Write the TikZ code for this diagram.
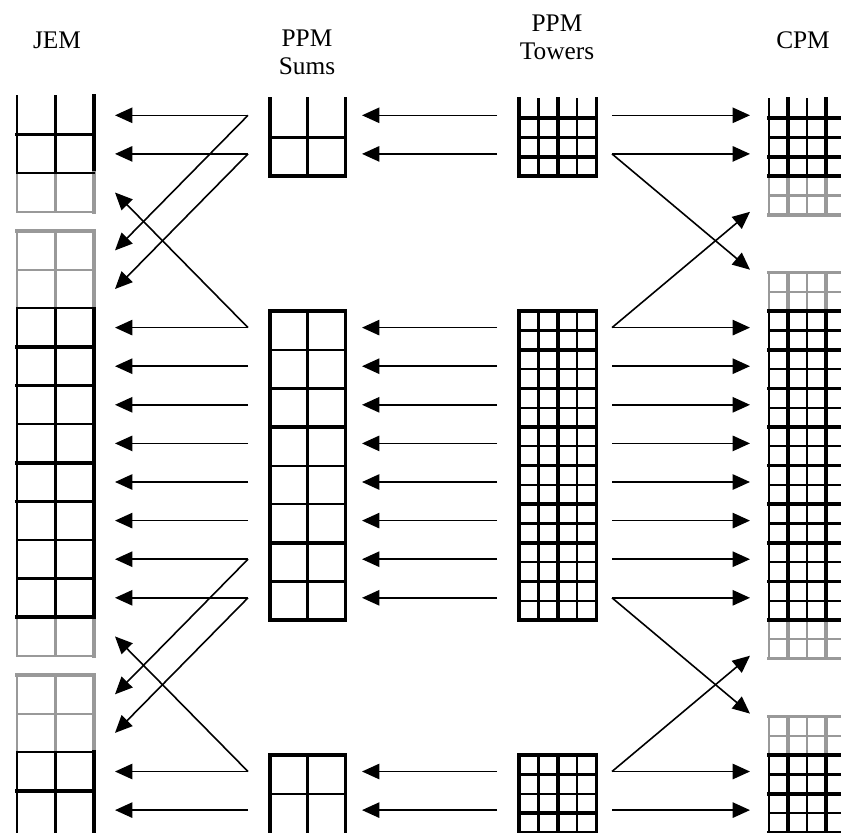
\documentclass[tikz,border=0pt]{standalone}
\usepackage{fontspec}
\setmainfont{Liberation Serif}
\usetikzlibrary{arrows.meta}

\begin{document}
\begin{tikzpicture}[
  x=0.75pt,y=-0.75pt,
  font=\fontsize{19}{21}\selectfont,
  colhead/.style={align=center,inner sep=0pt},
  cell/.style={line width=1.6pt,line cap=rect},
  cellbold/.style={line width=2.7pt,line cap=rect},
  faded/.style={black!40},
  arr/.style={line width=1.2pt,-{Triangle[length=13pt,width=11.5pt]}}
]
\useasboundingbox (0,0) rectangle (841,832);
\clip (0,0) rectangle (841,832);

\node[colhead] (jem) at (57,40) {JEM};
\node[colhead] (sums) at (307,52) {PPM\\Sums};
\node[colhead] (towers) at (557,37) {PPM\\Towers};
\node[colhead] (cpm) at (803,40) {CPM};

\begin{scope}[shift={(0,96)},y=-14.475pt]
% JEM
\foreach \a/\b/\c in {0/4/black,4/6/faded,7/11/faded,11/27/black,27/29/faded,30/34/faded,34/39/black} {
  \draw[cell,\c] (17,\a) -- (17,\b) (55.5,\a) -- (55.5,\b);
  \draw[cellbold,\c] (94,\a) -- (94,\b);
}
\foreach \n in {6,9,29,32} \draw[cell,faded] (17,\n) -- (94,\n);
\foreach \n in {7,30} \draw[cellbold,faded] (17,\n) -- (94,\n);
\foreach \n in {4,11,17,23,25,34} \draw[cell] (17,\n) -- (94,\n);
\foreach \n in {2,13,15,19,21,27,36} \draw[cellbold] (17,\n) -- (94,\n);

\begin{scope}[yshift=-2.2pt]
% PPM sums
\foreach \a/\b in {0/4,11/27,34/39}
  \draw[cellbold] (270,\a) -- (270,\b) (307.5,\a) -- (307.5,\b) (345.5,\a) -- (345.5,\b);
\foreach \n in {2,13,19,21,36} \draw[cell] (270,\n) -- (345.5,\n);
\foreach \n in {4,11,15,17,23,25,27,34} \draw[cellbold] (270,\n) -- (345.5,\n);

% PPM towers
\foreach \a/\b in {0/4,11/27,34/39} {
  \draw[cellbold] (519,\a) -- (519,\b) (558,\a) -- (558,\b) (596.5,\a) -- (596.5,\b);
  \draw[cell] (538.5,\a) -- (538.5,\b) (577,\a) -- (577,\b);
}
\foreach \n in {2,12,14,16,18,20,22,24,26,36,38} \draw[cell] (519,\n) -- (596.5,\n);
\foreach \n in {1,3,4,11,13,15,17,19,21,23,25,27,34,35,37} \draw[cellbold] (519,\n) -- (596.5,\n);

% CPM
\foreach \a/\b/\c in {0/4/black,4/6/faded,9/11/faded,11/27/black,27/29/faded,32/34/faded,34/39/black} {
  \draw[cell,\c] (769,\a) -- (769,\b) (807,\a) -- (807,\b) (845,\a) -- (845,\b);
  \draw[cellbold,\c] (788,\a) -- (788,\b) (826,\a) -- (826,\b);
}
\foreach \n in {5,10,28,33} \draw[cell,faded] (769,\n) -- (850,\n);
\foreach \n in {6,9,29,32} \draw[cellbold,faded] (769,\n) -- (850,\n);
\foreach \n in {2,12,14,16,18,20,22,24,26,35,37} \draw[cell] (769,\n) -- (850,\n);
\foreach \n in {1,3,4,11,13,15,17,19,21,23,25,27,34,36,38} \draw[cellbold] (769,\n) -- (850,\n);
\end{scope}

% row end points
\foreach \n in {0,...,38} {
  \coordinate (jem-e\n) at (115,\n);
  \coordinate (sum-w\n) at (248,\n);
  \coordinate (sum-e\n) at (362,\n);
  \coordinate (tow-w\n) at (497,\n);
  \coordinate (tow-e\n) at (612,\n);
  \coordinate (cpm-w\n) at (750,\n);
}

% links
\foreach \n in {1,3,12,14,16,18,20,22,24,26,35,37} {
  \draw[arr] (sum-w\n) -- (jem-e\n);
  \draw[arr] (tow-w\n) -- (sum-e\n);
  \draw[arr] (tow-e\n) -- (cpm-w\n);
}
\foreach \f/\t in {1/8,3/10,12/5,24/31,26/33,35/28} \draw[arr] (sum-w\f) -- (jem-e\t);
\foreach \f/\t in {3/9,12/6,26/32,35/29} \draw[arr] (tow-e\f) -- (cpm-w\t);
\end{scope}
\end{tikzpicture}
\end{document}
